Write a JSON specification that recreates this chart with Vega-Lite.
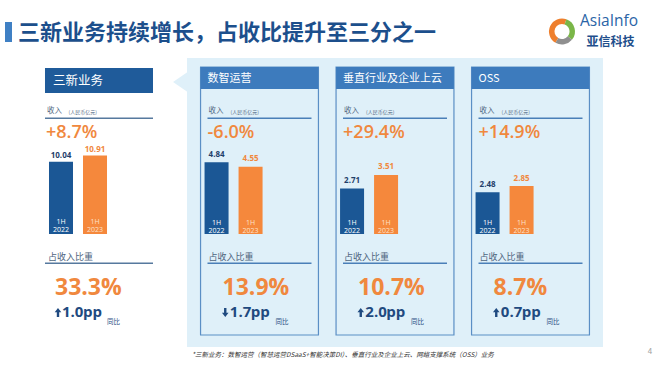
{
  "$schema": "https://vega.github.io/schema/vega-lite/v6.json",
  "padding": 0,
  "background": "#ffffff",
  "bounds": "full",
  "spacing": 0,
  "config": {
    "view": {"stroke": null},
    "axis": {"disable": true},
    "legend": {"disable": true},
    "font": "Noto Sans CJK SC",
    "locale": {"number": {"decimal": ".", "thousands": ",", "grouping": [3], "currency": ["", ""], "minus": "-"}}
  },
  "datasets": {
    "bars": [
      {"segment": "三新业务", "period": "1H 2022", "value": 10.04},
      {"segment": "三新业务", "period": "1H 2023", "value": 10.91},
      {"segment": "数智运营", "period": "1H 2022", "value": 4.84},
      {"segment": "数智运营", "period": "1H 2023", "value": 4.55},
      {"segment": "垂直行业及企业上云", "period": "1H 2022", "value": 2.71},
      {"segment": "垂直行业及企业上云", "period": "1H 2023", "value": 3.51},
      {"segment": "OSS", "period": "1H 2022", "value": 2.48},
      {"segment": "OSS", "period": "1H 2023", "value": 2.85}
    ],
    "summary": [
      {"segment": "三新业务", "growth": 0.087, "share": 0.333, "change": 1.0, "direction": "up"},
      {"segment": "数智运营", "growth": -0.06, "share": 0.139, "change": 1.7, "direction": "down"},
      {"segment": "垂直行业及企业上云", "growth": 0.294, "share": 0.107, "change": 2.0, "direction": "up"},
      {"segment": "OSS", "growth": 0.149, "share": 0.087, "change": 0.7, "direction": "up"}
    ]
  },
  "vconcat": [
    {
      "width": 660,
      "height": 58,
      "data": {"values": [{"title": "三新业务持续增长，占收比提升至三分之一", "brand": "AsiaInfo", "brandCn": "亚信科技"}]},
      "layer": [
        {"mark": {"type": "point", "shape": "M -325 -7 H -318 V 13 H -325 Z", "size": 4, "filled": true, "color": "#3f80c4", "opacity": 1}, "encoding": {}},
        {"mark": {"type": "text", "align": "left", "baseline": "middle", "dx": -312, "dy": 4, "fontSize": 22, "fontWeight": "bold", "color": "#1c4f8c"}, "encoding": {"text": {"field": "title"}}},
        {"mark": {"type": "point", "shape": "M 226.875 11.377 A 10.25 10.25 0 0 1 235.506 -7.132", "size": 4, "filled": false, "fill": null, "stroke": "#ee7f2d", "strokeWidth": 5.5, "strokeCap": "butt", "opacity": 1}, "encoding": {}},
        {"mark": {"type": "point", "shape": "M 235.506 -7.132 A 10.25 10.25 0 0 1 239.852 9.089", "size": 4, "filled": false, "fill": null, "stroke": "#7ab648", "strokeWidth": 5.5, "strokeCap": "butt", "opacity": 1}, "encoding": {}},
        {"mark": {"type": "point", "shape": "M 239.852 9.089 A 10.25 10.25 0 0 1 226.875 11.377", "size": 4, "filled": false, "fill": null, "stroke": "#8f8f8f", "strokeWidth": 5.5, "strokeCap": "butt", "opacity": 1}, "encoding": {}},
        {"mark": {"type": "text", "align": "left", "baseline": "middle", "dx": 250, "dy": -8, "fontSize": 15.5, "font": "Open Sans", "color": "#2a64a6"}, "encoding": {"text": {"field": "brand"}}},
        {"mark": {"type": "text", "align": "left", "baseline": "middle", "dx": 256.5, "dy": 13, "fontSize": 12, "fontWeight": "bold", "color": "#1f4f8c"}, "encoding": {"text": {"field": "brandCn"}}}
      ]
    },
    {
      "hconcat": [
        {
          "width": 187,
          "height": 289,
          "resolve": {"scale": {"y": "independent"}},
          "layer": [
            {
              "data": {"name": "summary"},
              "transform": [{"filter": "datum.segment === '三新业务'"}],
              "layer": [
                {"mark": {"type": "bar", "color": "#1f5b9a"}, "encoding": {
                  "x": {"field": "segment", "type": "nominal", "scale": {"type": "band", "domain": ["三新业务"], "paddingInner": 0, "paddingOuter": 0.3657, "align": 0.5696}},
                  "y": {"datum": 166, "type": "quantitative", "scale": {"domain": [-113, 176], "nice": false, "zero": false}},
                  "y2": {"datum": 141}}},
                {"mark": {"type": "text", "align": "left", "baseline": "middle", "dx": 8, "fontSize": 12.5, "color": "#ffffff"}, "encoding": {
                  "x": {"field": "segment", "type": "nominal", "bandPosition": 0, "scale": {"type": "band", "domain": ["三新业务"], "paddingInner": 0, "paddingOuter": 0.3657, "align": 0.5696}},
                  "y": {"datum": 153, "type": "quantitative", "scale": {"domain": [-113, 176], "nice": false, "zero": false}},
                  "text": {"field": "segment"}}},
                {"mark": {"type": "text", "align": "left", "baseline": "middle", "dx": 2, "fontSize": 7.5, "color": "#4f6680"}, "encoding": {
                  "x": {"field": "segment", "type": "nominal", "bandPosition": 0, "scale": {"type": "band", "domain": ["三新业务"], "paddingInner": 0, "paddingOuter": 0.3657, "align": 0.5696}},
                  "y": {"datum": 123, "type": "quantitative", "scale": {"domain": [-113, 176], "nice": false, "zero": false}},
                  "text": {"value": "收入"}}},
                {"mark": {"type": "text", "align": "left", "baseline": "middle", "dx": 23.5, "fontSize": 5, "color": "#4f6680"}, "encoding": {
                  "x": {"field": "segment", "type": "nominal", "bandPosition": 0, "scale": {"type": "band", "domain": ["三新业务"], "paddingInner": 0, "paddingOuter": 0.3657, "align": 0.5696}},
                  "y": {"datum": 122.5, "type": "quantitative", "scale": {"domain": [-113, 176], "nice": false, "zero": false}},
                  "text": {"value": "(人民币亿元)"}}},
                {"mark": {"type": "bar", "color": "#56799e"}, "encoding": {
                  "x": {"field": "segment", "type": "nominal", "scale": {"type": "band", "domain": ["三新业务"], "paddingInner": 0, "paddingOuter": 0.3657, "align": 0.5696}},
                  "y": {"datum": 116.5, "type": "quantitative", "scale": {"domain": [-113, 176], "nice": false, "zero": false}},
                  "y2": {"datum": 115}}},
                {"mark": {"type": "text", "align": "left", "baseline": "alphabetic", "dx": 1, "font": "Open Sans", "fontSize": 18, "fontWeight": 600, "color": "#f0883e"}, "encoding": {
                  "x": {"field": "segment", "type": "nominal", "bandPosition": 0, "scale": {"type": "band", "domain": ["三新业务"], "paddingInner": 0, "paddingOuter": 0.3657, "align": 0.5696}},
                  "y": {"datum": 96.5, "type": "quantitative", "scale": {"domain": [-113, 176], "nice": false, "zero": false}},
                  "text": {"field": "growth", "type": "quantitative", "format": "+.1%"}}},
                {"mark": {"type": "text", "align": "left", "baseline": "middle", "dx": 3, "fontSize": 9, "color": "#4f6680"}, "encoding": {
                  "x": {"field": "segment", "type": "nominal", "bandPosition": 0, "scale": {"type": "band", "domain": ["三新业务"], "paddingInner": 0, "paddingOuter": 0.3657, "align": 0.5696}},
                  "y": {"datum": -23, "type": "quantitative", "scale": {"domain": [-113, 176], "nice": false, "zero": false}},
                  "text": {"value": "占收入比重"}}},
                {"mark": {"type": "bar", "color": "#56799e"}, "encoding": {
                  "x": {"field": "segment", "type": "nominal", "scale": {"type": "band", "domain": ["三新业务"], "paddingInner": 0, "paddingOuter": 0.3657, "align": 0.5696}},
                  "y": {"datum": -28.5, "type": "quantitative", "scale": {"domain": [-113, 176], "nice": false, "zero": false}},
                  "y2": {"datum": -30}}},
                {"mark": {"type": "text", "align": "left", "baseline": "alphabetic", "dx": 10, "font": "Open Sans", "fontSize": 23, "fontWeight": "bold", "color": "#f0883e"}, "encoding": {
                  "x": {"field": "segment", "type": "nominal", "bandPosition": 0, "scale": {"type": "band", "domain": ["三新业务"], "paddingInner": 0, "paddingOuter": 0.3657, "align": 0.5696}},
                  "y": {"datum": -61, "type": "quantitative", "scale": {"domain": [-113, 176], "nice": false, "zero": false}},
                  "text": {"field": "share", "type": "quantitative", "format": ".1%"}}},
                {"mark": {"type": "point", "size": 4, "filled": true, "color": "#1f4a80", "opacity": 1}, "encoding": {
                  "x": {"field": "segment", "type": "nominal", "bandPosition": 0, "scale": {"type": "band", "domain": ["三新业务"], "paddingInner": 0, "paddingOuter": 0.3657, "align": 0.5696}},
                  "y": {"datum": -83, "type": "quantitative", "scale": {"domain": [-113, 176], "nice": false, "zero": false}},
                  "shape": {"condition": {"test": "datum.direction === 'up'", "value": "M 13 -9 L 16.3 -4.8 L 14.2 -4.8 L 14.2 0 L 11.8 0 L 11.8 -4.8 L 9.7 -4.8 Z"}, "value": "M 13 0 L 16.3 -4.2 L 14.2 -4.2 L 14.2 -9 L 11.8 -9 L 11.8 -4.2 L 9.7 -4.2 Z"}}},
                {"mark": {"type": "text", "align": "left", "baseline": "alphabetic", "dx": 17, "font": "Open Sans", "fontSize": 15, "fontWeight": "bold", "color": "#1f4a80"}, "encoding": {
                  "x": {"field": "segment", "type": "nominal", "bandPosition": 0, "scale": {"type": "band", "domain": ["三新业务"], "paddingInner": 0, "paddingOuter": 0.3657, "align": 0.5696}},
                  "y": {"datum": -83, "type": "quantitative", "scale": {"domain": [-113, 176], "nice": false, "zero": false}},
                  "text": {"field": "change", "type": "quantitative", "format": ".1f"}}},
                {"mark": {"type": "text", "align": "left", "baseline": "alphabetic", "dx": 38, "font": "Open Sans", "fontSize": 15, "fontWeight": "bold", "color": "#1f4a80"}, "encoding": {
                  "x": {"field": "segment", "type": "nominal", "bandPosition": 0, "scale": {"type": "band", "domain": ["三新业务"], "paddingInner": 0, "paddingOuter": 0.3657, "align": 0.5696}},
                  "y": {"datum": -83, "type": "quantitative", "scale": {"domain": [-113, 176], "nice": false, "zero": false}},
                  "text": {"value": "pp"}}},
                {"mark": {"type": "text", "align": "left", "baseline": "middle", "dx": 62, "fontSize": 6.5, "color": "#1f4a80"}, "encoding": {
                  "x": {"field": "segment", "type": "nominal", "bandPosition": 0, "scale": {"type": "band", "domain": ["三新业务"], "paddingInner": 0, "paddingOuter": 0.3657, "align": 0.5696}},
                  "y": {"datum": -88, "type": "quantitative", "scale": {"domain": [-113, 176], "nice": false, "zero": false}},
                  "text": {"value": "同比"}}}
              ]
            },
            {
              "data": {"name": "bars"},
              "transform": [{"filter": "datum.segment === '三新业务'"}],
              "layer": [
                {"mark": {"type": "bar"}, "encoding": {
                  "x": {"field": "segment", "type": "nominal", "scale": {"type": "band", "domain": ["三新业务"], "paddingInner": 0, "paddingOuter": 0.3657, "align": 0.5696}},
                  "xOffset": {"field": "period", "type": "nominal", "scale": {"type": "band", "domain": ["1H 2022", "1H 2023"], "paddingInner": 0.294, "paddingOuter": 0.735, "align": 0.08}},
                  "y": {"field": "value", "type": "quantitative", "scale": {"domain": [-15.716, 24.478], "nice": false}},
                  "color": {"field": "period", "type": "nominal", "scale": {"domain": ["1H 2022", "1H 2023"], "range": ["#1b5795", "#f5883c"]}, "legend": null}}},
                {"mark": {"type": "text", "baseline": "middle", "dy": -6, "font": "Open Sans", "fontSize": 8, "fontWeight": "bold"}, "encoding": {
                  "x": {"field": "segment", "type": "nominal", "scale": {"type": "band", "domain": ["三新业务"], "paddingInner": 0, "paddingOuter": 0.3657, "align": 0.5696}},
                  "xOffset": {"field": "period", "type": "nominal", "scale": {"type": "band", "domain": ["1H 2022", "1H 2023"], "paddingInner": 0.294, "paddingOuter": 0.735, "align": 0.08}},
                  "y": {"field": "value", "type": "quantitative", "scale": {"domain": [-15.716, 24.478], "nice": false}},
                  "text": {"field": "value", "type": "quantitative", "format": ".2f"},
                  "color": {"condition": {"test": "datum.period === '1H 2022'", "value": "#1f3f6b"}, "value": "#f0883e"}}},
                {"mark": {"type": "text", "baseline": "middle", "dy": -11.5, "font": "Open Sans", "fontSize": 7, "lineHeight": 8, "lineBreak": " "}, "encoding": {
                  "x": {"field": "segment", "type": "nominal", "scale": {"type": "band", "domain": ["三新业务"], "paddingInner": 0, "paddingOuter": 0.3657, "align": 0.5696}},
                  "xOffset": {"field": "period", "type": "nominal", "scale": {"type": "band", "domain": ["1H 2022", "1H 2023"], "paddingInner": 0.294, "paddingOuter": 0.735, "align": 0.08}},
                  "y": {"datum": 0, "type": "quantitative", "scale": {"domain": [-15.716, 24.478], "nice": false}},
                  "text": {"field": "period"},
                  "color": {"condition": {"test": "datum.period === '1H 2022'", "value": "#ffffff"}, "value": "#fde0c8"}}}
              ]
            }
          ]
        },
        {
          "width": 416,
          "height": 289,
          "view": {"fill": "#dff0f9", "stroke": null},
          "resolve": {"scale": {"y": "independent"}},
          "layer": [
            {
              "data": {"name": "summary"},
              "transform": [{"filter": "datum.segment !== '三新业务'"}],
              "layer": [
                {"transform": [{"filter": "datum.segment === '数智运营'"}],
                 "mark": {"type": "point", "shape": "M -13 -10 L -27.5 0 L -13 10 Z", "size": 4, "filled": true, "color": "#dff0f9", "opacity": 1}, "encoding": {
                  "x": {"field": "segment", "type": "nominal", "bandPosition": 0, "scale": {"type": "band", "domain": ["数智运营", "垂直行业及企业上云", "OSS"], "paddingInner": 0.13, "paddingOuter": 0.1}},
                  "y": {"datum": 152, "type": "quantitative", "scale": {"domain": [-113, 176], "nice": false, "zero": false}}}},
                {"mark": {"type": "bar", "fill": "#dff0f9", "stroke": "#5b8fc5", "strokeWidth": 1.2}, "encoding": {
                  "x": {"field": "segment", "type": "nominal", "scale": {"type": "band", "domain": ["数智运营", "垂直行业及企业上云", "OSS"], "paddingInner": 0.13, "paddingOuter": 0.1}},
                  "y": {"datum": 167, "type": "quantitative", "scale": {"domain": [-113, 176], "nice": false, "zero": false}},
                  "y2": {"datum": -101}}},
                {"mark": {"type": "bar", "color": "#3d7bbd"}, "encoding": {
                  "x": {"field": "segment", "type": "nominal", "scale": {"type": "band", "domain": ["数智运营", "垂直行业及企业上云", "OSS"], "paddingInner": 0.13, "paddingOuter": 0.1}},
                  "y": {"datum": 167, "type": "quantitative", "scale": {"domain": [-113, 176], "nice": false, "zero": false}},
                  "y2": {"datum": 145}}},
                {"mark": {"type": "text", "align": "left", "baseline": "middle", "dx": 7, "fontSize": 11, "color": "#ffffff"}, "encoding": {
                  "x": {"field": "segment", "type": "nominal", "bandPosition": 0, "scale": {"type": "band", "domain": ["数智运营", "垂直行业及企业上云", "OSS"], "paddingInner": 0.13, "paddingOuter": 0.1}},
                  "y": {"datum": 155, "type": "quantitative", "scale": {"domain": [-113, 176], "nice": false, "zero": false}},
                  "text": {"field": "segment"}}},
                {"mark": {"type": "text", "align": "left", "baseline": "middle", "dx": 8, "fontSize": 7.5, "color": "#4f6680"}, "encoding": {
                  "x": {"field": "segment", "type": "nominal", "bandPosition": 0, "scale": {"type": "band", "domain": ["数智运营", "垂直行业及企业上云", "OSS"], "paddingInner": 0.13, "paddingOuter": 0.1}},
                  "y": {"datum": 123, "type": "quantitative", "scale": {"domain": [-113, 176], "nice": false, "zero": false}},
                  "text": {"value": "收入"}}},
                {"mark": {"type": "text", "align": "left", "baseline": "middle", "dx": 30, "fontSize": 5, "color": "#4f6680"}, "encoding": {
                  "x": {"field": "segment", "type": "nominal", "bandPosition": 0, "scale": {"type": "band", "domain": ["数智运营", "垂直行业及企业上云", "OSS"], "paddingInner": 0.13, "paddingOuter": 0.1}},
                  "y": {"datum": 122.5, "type": "quantitative", "scale": {"domain": [-113, 176], "nice": false, "zero": false}},
                  "text": {"value": "(人民币亿元)"}}},
                {"mark": {"type": "bar", "color": "#4a7fb8", "width": 104}, "encoding": {
                  "x": {"field": "segment", "type": "nominal", "scale": {"type": "band", "domain": ["数智运营", "垂直行业及企业上云", "OSS"], "paddingInner": 0.13, "paddingOuter": 0.1}},
                  "y": {"datum": 116.5, "type": "quantitative", "scale": {"domain": [-113, 176], "nice": false, "zero": false}},
                  "y2": {"datum": 115}}},
                {"mark": {"type": "text", "align": "left", "baseline": "alphabetic", "dx": 7, "font": "Open Sans", "fontSize": 18, "fontWeight": 600, "color": "#f0883e"}, "encoding": {
                  "x": {"field": "segment", "type": "nominal", "bandPosition": 0, "scale": {"type": "band", "domain": ["数智运营", "垂直行业及企业上云", "OSS"], "paddingInner": 0.13, "paddingOuter": 0.1}},
                  "y": {"datum": 96.5, "type": "quantitative", "scale": {"domain": [-113, 176], "nice": false, "zero": false}},
                  "text": {"field": "growth", "type": "quantitative", "format": "+.1%"}}},
                {"mark": {"type": "text", "align": "left", "baseline": "middle", "dx": 8, "fontSize": 9, "color": "#4f6680"}, "encoding": {
                  "x": {"field": "segment", "type": "nominal", "bandPosition": 0, "scale": {"type": "band", "domain": ["数智运营", "垂直行业及企业上云", "OSS"], "paddingInner": 0.13, "paddingOuter": 0.1}},
                  "y": {"datum": -23, "type": "quantitative", "scale": {"domain": [-113, 176], "nice": false, "zero": false}},
                  "text": {"value": "占收入比重"}}},
                {"mark": {"type": "bar", "color": "#4a7fb8", "width": 104}, "encoding": {
                  "x": {"field": "segment", "type": "nominal", "scale": {"type": "band", "domain": ["数智运营", "垂直行业及企业上云", "OSS"], "paddingInner": 0.13, "paddingOuter": 0.1}},
                  "y": {"datum": -28.5, "type": "quantitative", "scale": {"domain": [-113, 176], "nice": false, "zero": false}},
                  "y2": {"datum": -30}}},
                {"mark": {"type": "text", "align": "left", "baseline": "alphabetic", "dx": 22, "font": "Open Sans", "fontSize": 23, "fontWeight": "bold", "color": "#f0883e"}, "encoding": {
                  "x": {"field": "segment", "type": "nominal", "bandPosition": 0, "scale": {"type": "band", "domain": ["数智运营", "垂直行业及企业上云", "OSS"], "paddingInner": 0.13, "paddingOuter": 0.1}},
                  "y": {"datum": -61, "type": "quantitative", "scale": {"domain": [-113, 176], "nice": false, "zero": false}},
                  "text": {"field": "share", "type": "quantitative", "format": ".1%"}}},
                {"mark": {"type": "point", "size": 4, "filled": true, "color": "#1f4a80", "opacity": 1}, "encoding": {
                  "x": {"field": "segment", "type": "nominal", "bandPosition": 0, "scale": {"type": "band", "domain": ["数智运营", "垂直行业及企业上云", "OSS"], "paddingInner": 0.13, "paddingOuter": 0.1}},
                  "y": {"datum": -83, "type": "quantitative", "scale": {"domain": [-113, 176], "nice": false, "zero": false}},
                  "shape": {"condition": {"test": "datum.direction === 'up'", "value": "M 24.7 -9 L 28 -4.8 L 25.9 -4.8 L 25.9 0 L 23.5 0 L 23.5 -4.8 L 21.4 -4.8 Z"}, "value": "M 24.7 0 L 28 -4.2 L 25.9 -4.2 L 25.9 -9 L 23.5 -9 L 23.5 -4.2 L 21.4 -4.2 Z"}}},
                {"mark": {"type": "text", "align": "left", "baseline": "alphabetic", "dx": 29.3, "font": "Open Sans", "fontSize": 15, "fontWeight": "bold", "color": "#1f4a80"}, "encoding": {
                  "x": {"field": "segment", "type": "nominal", "bandPosition": 0, "scale": {"type": "band", "domain": ["数智运营", "垂直行业及企业上云", "OSS"], "paddingInner": 0.13, "paddingOuter": 0.1}},
                  "y": {"datum": -83, "type": "quantitative", "scale": {"domain": [-113, 176], "nice": false, "zero": false}},
                  "text": {"field": "change", "type": "quantitative", "format": ".1f"}}},
                {"mark": {"type": "text", "align": "left", "baseline": "alphabetic", "dx": 50.3, "font": "Open Sans", "fontSize": 15, "fontWeight": "bold", "color": "#1f4a80"}, "encoding": {
                  "x": {"field": "segment", "type": "nominal", "bandPosition": 0, "scale": {"type": "band", "domain": ["数智运营", "垂直行业及企业上云", "OSS"], "paddingInner": 0.13, "paddingOuter": 0.1}},
                  "y": {"datum": -83, "type": "quantitative", "scale": {"domain": [-113, 176], "nice": false, "zero": false}},
                  "text": {"value": "pp"}}},
                {"mark": {"type": "text", "align": "left", "baseline": "middle", "dx": 75, "fontSize": 6.5, "color": "#1f4a80"}, "encoding": {
                  "x": {"field": "segment", "type": "nominal", "bandPosition": 0, "scale": {"type": "band", "domain": ["数智运营", "垂直行业及企业上云", "OSS"], "paddingInner": 0.13, "paddingOuter": 0.1}},
                  "y": {"datum": -88, "type": "quantitative", "scale": {"domain": [-113, 176], "nice": false, "zero": false}},
                  "text": {"value": "同比"}}}
              ]
            },
            {
              "data": {"name": "bars"},
              "transform": [{"filter": "datum.segment === '数智运营'"}],
              "layer": [
                {"mark": {"type": "bar"}, "encoding": {
                  "x": {"field": "segment", "type": "nominal", "scale": {"type": "band", "domain": ["数智运营", "垂直行业及企业上云", "OSS"], "paddingInner": 0.13, "paddingOuter": 0.1}},
                  "xOffset": {"field": "period", "type": "nominal", "scale": {"type": "band", "domain": ["1H 2022", "1H 2023"], "paddingInner": 0.309, "paddingOuter": 0.8885, "align": 0.132}},
                  "y": {"field": "value", "type": "quantitative", "scale": {"domain": [-7.635, 11.892], "nice": false}},
                  "color": {"field": "period", "type": "nominal", "scale": {"domain": ["1H 2022", "1H 2023"], "range": ["#1b5795", "#f5883c"]}, "legend": null}}},
                {"mark": {"type": "text", "baseline": "middle", "dy": -7.5, "font": "Open Sans", "fontSize": 8, "fontWeight": "bold"}, "encoding": {
                  "x": {"field": "segment", "type": "nominal", "scale": {"type": "band", "domain": ["数智运营", "垂直行业及企业上云", "OSS"], "paddingInner": 0.13, "paddingOuter": 0.1}},
                  "xOffset": {"field": "period", "type": "nominal", "scale": {"type": "band", "domain": ["1H 2022", "1H 2023"], "paddingInner": 0.309, "paddingOuter": 0.8885, "align": 0.132}},
                  "y": {"field": "value", "type": "quantitative", "scale": {"domain": [-7.635, 11.892], "nice": false}},
                  "text": {"field": "value", "type": "quantitative", "format": ".2f"},
                  "color": {"condition": {"test": "datum.period === '1H 2022'", "value": "#1f3f6b"}, "value": "#f0883e"}}},
                {"mark": {"type": "text", "baseline": "middle", "dy": -11.5, "font": "Open Sans", "fontSize": 7, "lineHeight": 8, "lineBreak": " "}, "encoding": {
                  "x": {"field": "segment", "type": "nominal", "scale": {"type": "band", "domain": ["数智运营", "垂直行业及企业上云", "OSS"], "paddingInner": 0.13, "paddingOuter": 0.1}},
                  "xOffset": {"field": "period", "type": "nominal", "scale": {"type": "band", "domain": ["1H 2022", "1H 2023"], "paddingInner": 0.309, "paddingOuter": 0.8885, "align": 0.132}},
                  "y": {"datum": 0, "type": "quantitative", "scale": {"domain": [-7.635, 11.892], "nice": false}},
                  "text": {"field": "period"},
                  "color": {"condition": {"test": "datum.period === '1H 2022'", "value": "#ffffff"}, "value": "#fde0c8"}}}
              ]
            },
            {
              "data": {"name": "bars"},
              "transform": [{"filter": "datum.segment === '垂直行业及企业上云' || datum.segment === 'OSS'"}],
              "layer": [
                {"mark": {"type": "bar"}, "encoding": {
                  "x": {"field": "segment", "type": "nominal", "scale": {"type": "band", "domain": ["数智运营", "垂直行业及企业上云", "OSS"], "paddingInner": 0.13, "paddingOuter": 0.1}},
                  "xOffset": {"field": "period", "type": "nominal", "scale": {"type": "band", "domain": ["1H 2022", "1H 2023"], "paddingInner": 0.309, "paddingOuter": 0.8885, "align": 0.132}},
                  "y": {"field": "value", "type": "quantitative", "scale": {"domain": [-6.714, 10.458], "nice": false}},
                  "color": {"field": "period", "type": "nominal", "scale": {"domain": ["1H 2022", "1H 2023"], "range": ["#1b5795", "#f5883c"]}, "legend": null}}},
                {"mark": {"type": "text", "baseline": "middle", "dy": -7.5, "font": "Open Sans", "fontSize": 8, "fontWeight": "bold"}, "encoding": {
                  "x": {"field": "segment", "type": "nominal", "scale": {"type": "band", "domain": ["数智运营", "垂直行业及企业上云", "OSS"], "paddingInner": 0.13, "paddingOuter": 0.1}},
                  "xOffset": {"field": "period", "type": "nominal", "scale": {"type": "band", "domain": ["1H 2022", "1H 2023"], "paddingInner": 0.309, "paddingOuter": 0.8885, "align": 0.132}},
                  "y": {"field": "value", "type": "quantitative", "scale": {"domain": [-6.714, 10.458], "nice": false}},
                  "text": {"field": "value", "type": "quantitative", "format": ".2f"},
                  "color": {"condition": {"test": "datum.period === '1H 2022'", "value": "#1f3f6b"}, "value": "#f0883e"}}},
                {"mark": {"type": "text", "baseline": "middle", "dy": -11.5, "font": "Open Sans", "fontSize": 7, "lineHeight": 8, "lineBreak": " "}, "encoding": {
                  "x": {"field": "segment", "type": "nominal", "scale": {"type": "band", "domain": ["数智运营", "垂直行业及企业上云", "OSS"], "paddingInner": 0.13, "paddingOuter": 0.1}},
                  "xOffset": {"field": "period", "type": "nominal", "scale": {"type": "band", "domain": ["1H 2022", "1H 2023"], "paddingInner": 0.309, "paddingOuter": 0.8885, "align": 0.132}},
                  "y": {"datum": 0, "type": "quantitative", "scale": {"domain": [-6.714, 10.458], "nice": false}},
                  "text": {"field": "period"},
                  "color": {"condition": {"test": "datum.period === '1H 2022'", "value": "#ffffff"}, "value": "#fde0c8"}}}
              ]
            }
          ]
        }
      ],
      "spacing": 0,
      "bounds": "flush"
    },
    {
      "width": 660,
      "height": 23,
      "data": {"values": [{"note": "*三新业务：数智运营（智慧运营DSaaS+智能决策DI）、垂直行业及企业上云、网络支撑系统（OSS）业务", "page": "4"}]},
      "layer": [
        {"mark": {"type": "text", "align": "left", "baseline": "middle", "dx": -138, "dy": -4.5, "fontSize": 6.5, "fontStyle": "italic", "color": "#333333"}, "encoding": {"text": {"field": "note"}}},
        {"mark": {"type": "text", "align": "center", "baseline": "middle", "dx": 320, "dy": -8, "fontSize": 8, "color": "#a0a0a0"}, "encoding": {"text": {"field": "page"}}}
      ]
    }
  ]
}
